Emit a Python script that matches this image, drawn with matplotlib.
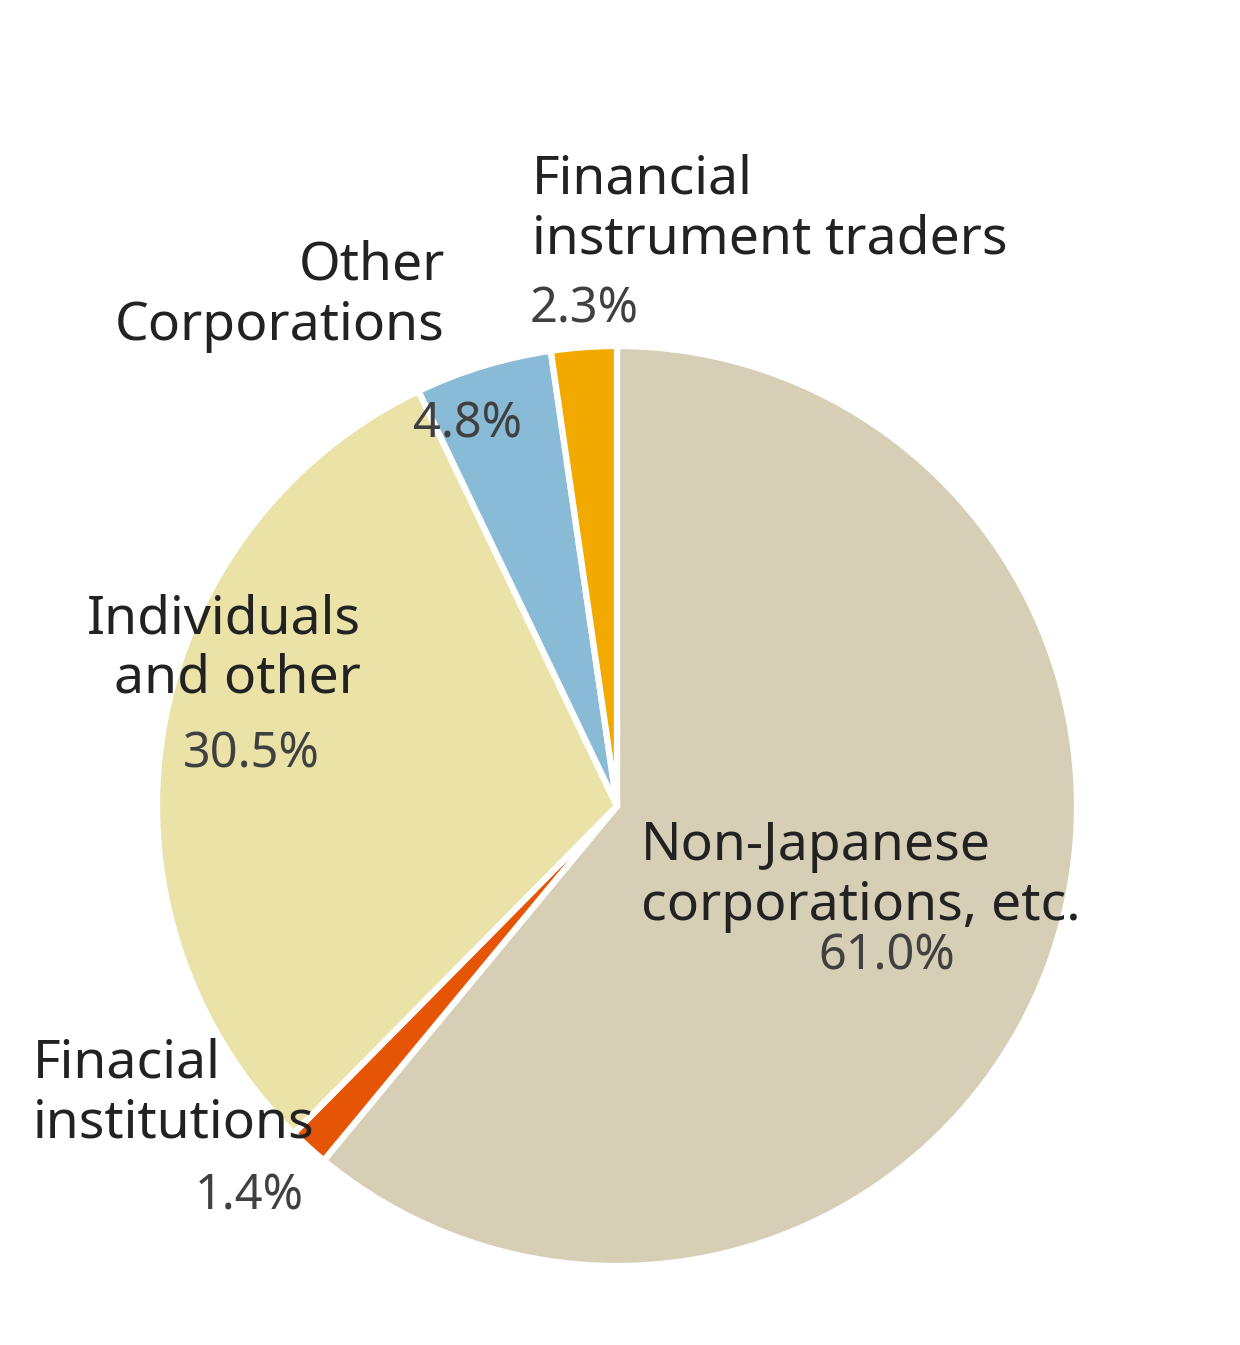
import matplotlib.pyplot as plt

# Shareholder composition (clockwise from 12 o'clock)
labels = ["Non-Japanese\ncorporations, etc.", "Finacial\ninstitutions", "Individuals\nand other",
          "Other\nCorporations", "Financial\ninstrument traders"]
shares = [61.0, 1.4, 30.5, 4.8, 2.3]
colors = ["#D7CEB6", "#E65405", "#EBE2A8", "#8ABBD6", "#F2A900"]

# label placement in pixels: (x, first baseline, align, pct x, pct baseline)
label_pos = [(641, 860, "left", 818, 970),
             (33, 1077, "left", 195, 1210),
             (361, 633, "right", 183, 767),
             (445, 280, "right", 413, 437),
             (532, 193, "left", 530, 323)]

W, H = 1240, 1345
fig = plt.figure(figsize=(W / 100, H / 100), dpi=100)
plt.rcParams['font.family'] = ['Noto Sans', 'DejaVu Sans']

# pie centre (617, 806), radius ~460 px
cx, cy, r = 617, 806, 460
ax = fig.add_axes([(cx - r) / W, (H - cy - r) / H, 2 * r / W, 2 * r / H])
ax.pie(shares, colors=colors, startangle=90, counterclock=False,
       wedgeprops=dict(edgecolor="white", linewidth=4.5))
ax.set_xlim(-1, 1)
ax.set_ylim(-1, 1)
ax.set_aspect("equal")
ax.axis("off")

line_gap = 60
for lab, val, (x, y0, ha, px, py) in zip(labels, shares, label_pos):
    for i, line in enumerate(lab.split("\n")):
        fig.text(x / W, 1 - (y0 + i * line_gap) / H, line, ha=ha, va="baseline",
                 fontsize=38.5, color="#222222")
    fig.text(px / W, 1 - py / H, f"{val:.1f}%", ha="left", va="baseline",
             fontsize=35, color="#404040")

fig.savefig("out.png", dpi=100, facecolor="white")
